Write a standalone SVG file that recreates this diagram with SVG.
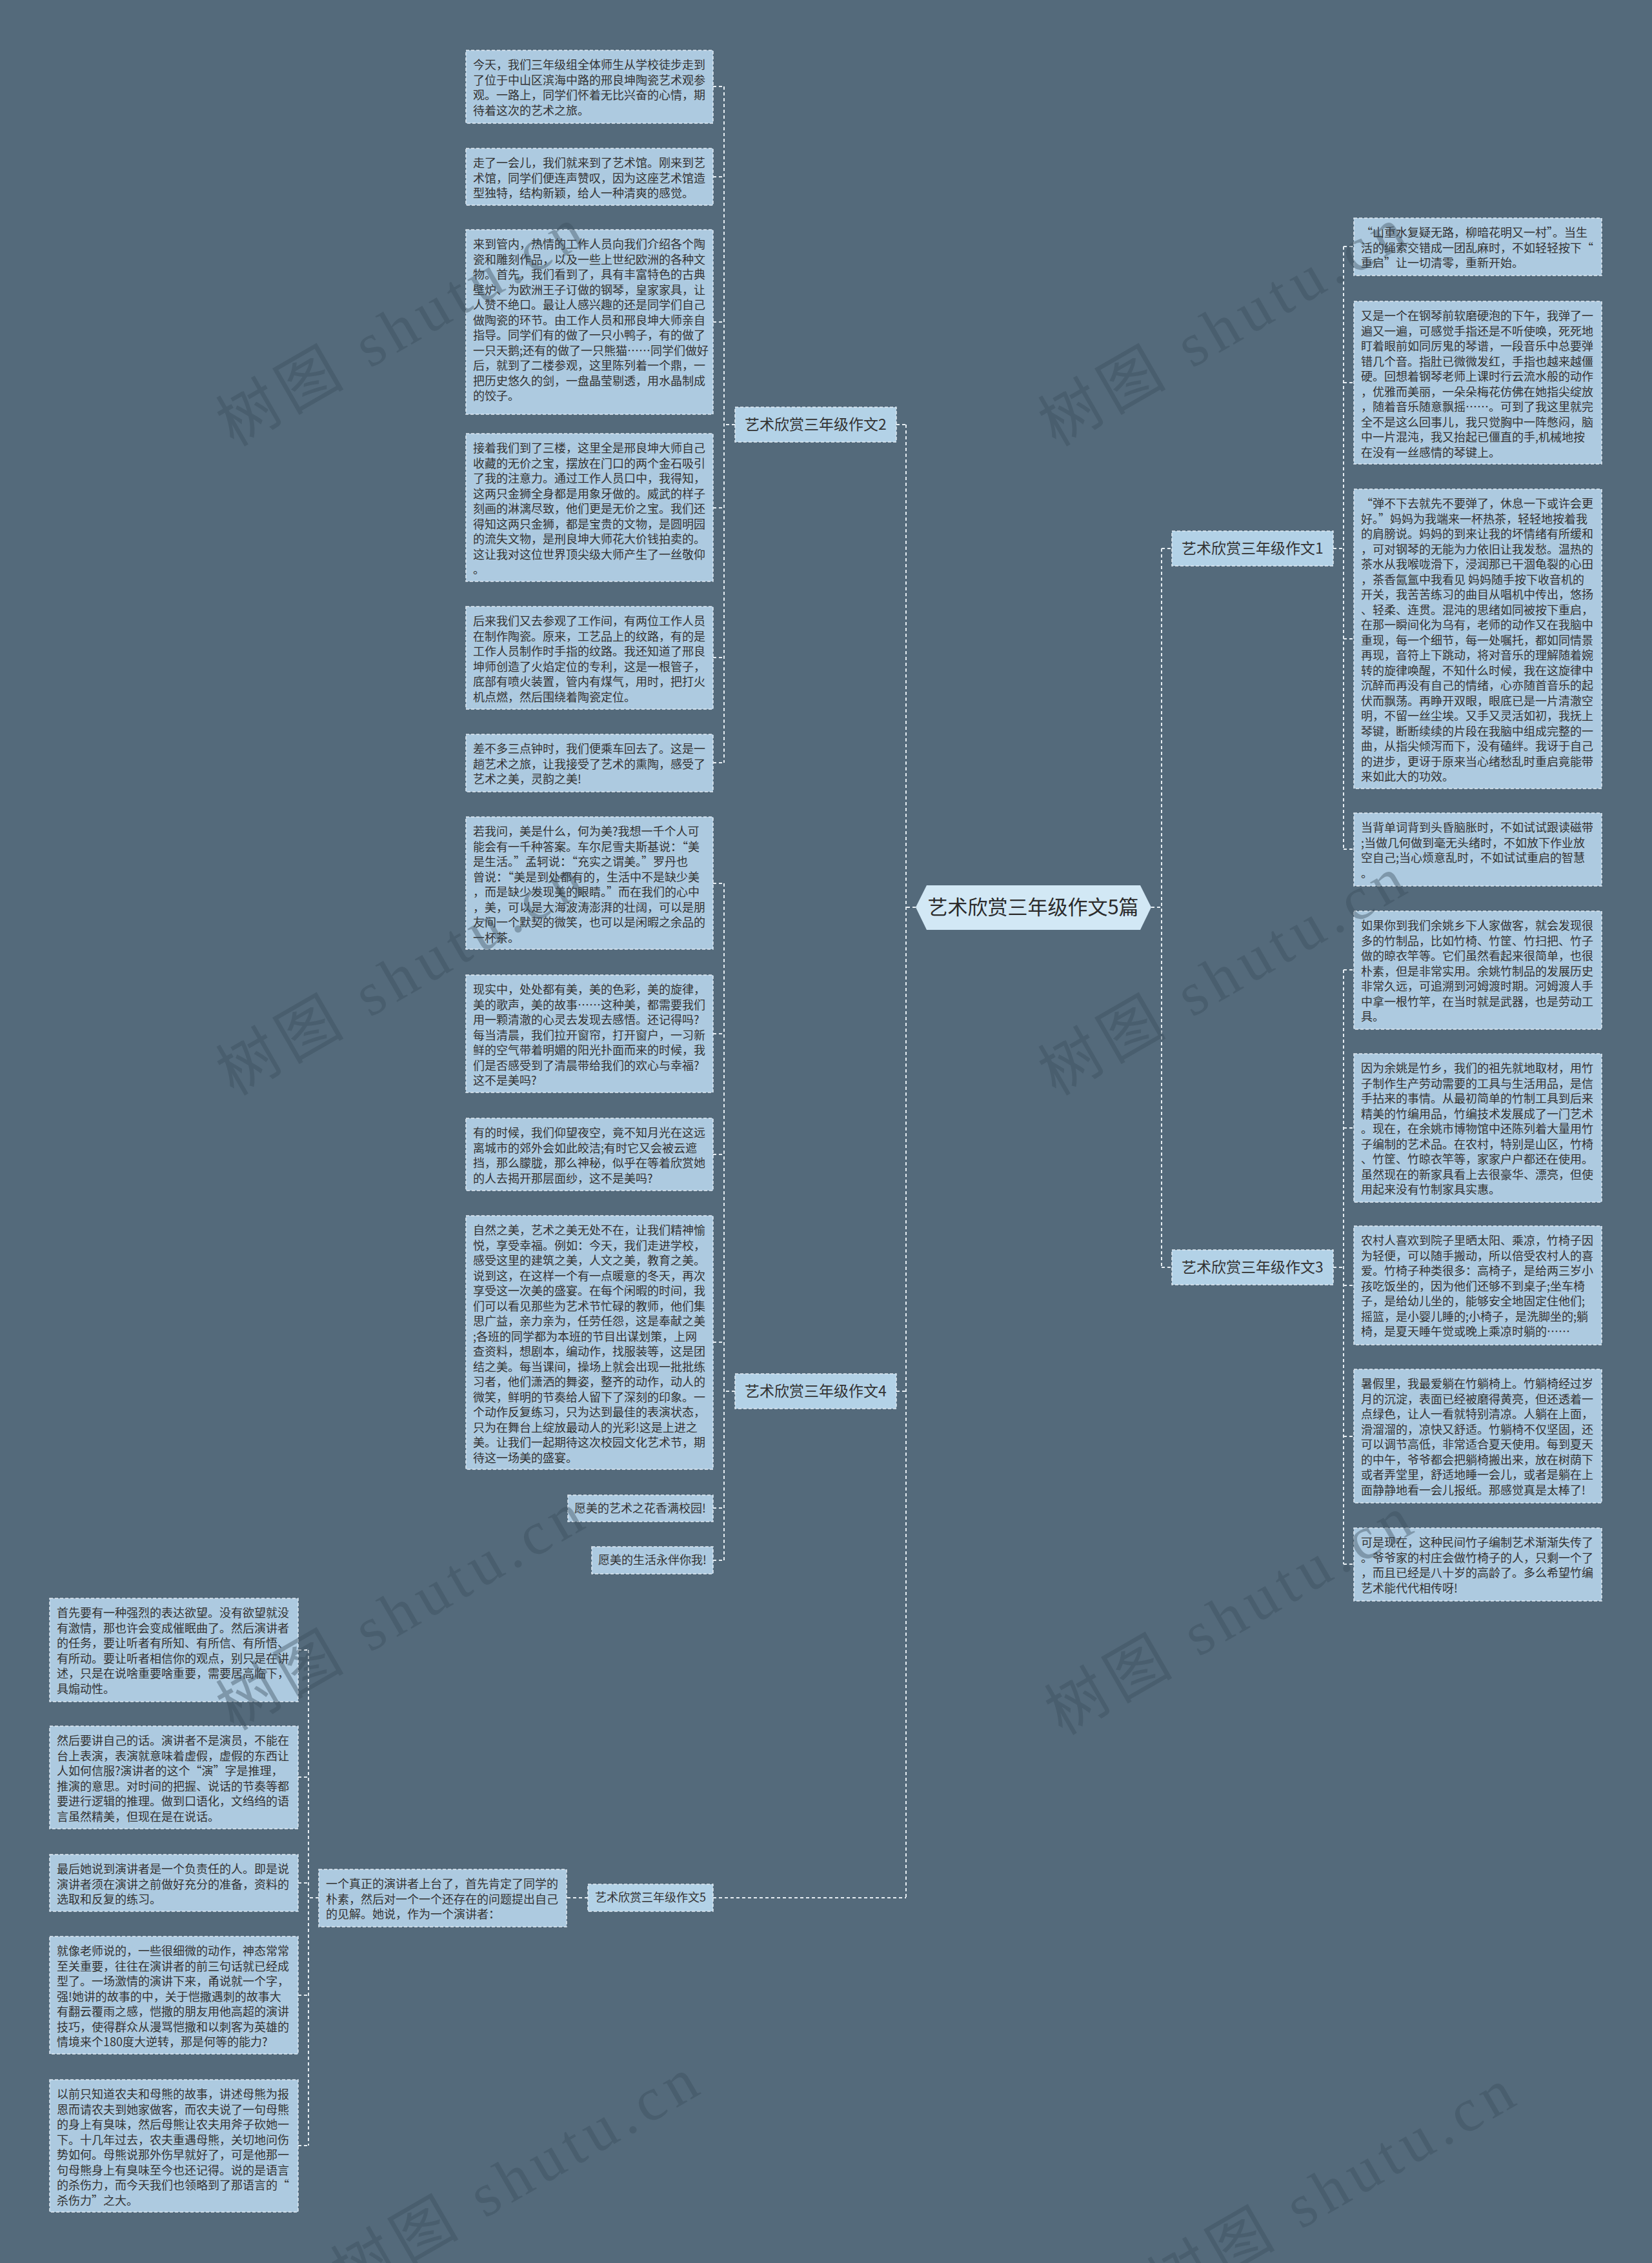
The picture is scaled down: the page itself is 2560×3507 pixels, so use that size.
<svg xmlns="http://www.w3.org/2000/svg" width="2560" height="3507" viewBox="0 0 2560 3507">
<defs>
<style>
.bg{fill:#546a7b}
.box{fill:#adcae0;stroke:#dfeaf3;stroke-width:1.5;stroke-dasharray:5 3}
.br{fill:#b3d2e7;stroke:#dfeaf3;stroke-width:1.5;stroke-dasharray:5 3}
.ctr{fill:#d2e8f5}
.t{font-family:"Noto Sans CJK SC","Noto Sans",sans-serif;font-size:18px;fill:#333}
.bt{font-family:"Noto Sans CJK SC","Noto Sans",sans-serif;font-size:23px;fill:#333;text-anchor:middle}
.ct{font-family:"Noto Sans CJK SC","Noto Sans",sans-serif;font-size:31px;fill:#2b2b2b;text-anchor:middle}
.conn{fill:none;stroke:#e6edf2;stroke-width:2;stroke-dasharray:5 4}
.wm{font-family:"Liberation Serif","Noto Sans CJK SC",serif;font-size:95px;letter-spacing:10px;fill:#3a4d5b;opacity:0.4}
</style>
</defs>
<rect class="bg" x="0" y="0" width="2560" height="3507"/>

<g id="connectors">
<path class="conn" d="M1419 1406 H1404 M1404 658 V2941 M1389 658 H1404 M1389 2156 H1404 M1105 2941 H1404"/>
<path class="conn" d="M1784 1406 H1800 M1800 850 V1964 M1800 850 H1816 M1800 1964 H1816"/>
<path class="conn" d="M2066 850 H2082 M2082 382 V1316 M2082 382 H2098 M2082 593 H2098 M2082 990 H2098 M2082 1316 H2098"/>
<path class="conn" d="M2066 1964 H2082 M2082 1503 V2424 M2082 1503 H2098 M2082 1748 H2098 M2082 1992 H2098 M2082 2226 H2098 M2082 2424 H2098"/>
<path class="conn" d="M1139 658 H1122 M1122 134 V1182 M1105 134 H1122 M1105 274 H1122 M1105 499 H1122 M1105 787 H1122 M1105 1019 H1122 M1105 1182 H1122"/>
<path class="conn" d="M1139 2156 H1122 M1122 1369 V2418 M1105 1369 H1122 M1105 1602 H1122 M1105 1789 H1122 M1105 2080 H1122 M1105 2337 H1122 M1105 2418 H1122"/>
<path class="conn" d="M911 2941 H878 M494 2941 H478 M478 2557 V3325 M462 2557 H478 M462 2754 H478 M462 2918 H478 M462 3092 H478 M462 3325 H478"/>
</g>

<g id="center">
<polygon class="ctr" points="1419,1406 1436,1372 1767,1372 1784,1406 1767,1441 1436,1441"/>
<text class="ct" x="1601" y="1417">艺术欣赏三年级作文5篇</text>
</g>

<g id="branch1"><rect class="br" x="1816" y="823" width="250" height="54"/><text class="bt" x="1941" y="858">艺术欣赏三年级作文1</text></g>
<g id="branch2"><rect class="br" x="1139" y="631" width="250" height="54"/><text class="bt" x="1264" y="666">艺术欣赏三年级作文2</text></g>
<g id="branch3"><rect class="br" x="1816" y="1937" width="250" height="54"/><text class="bt" x="1941" y="1972">艺术欣赏三年级作文3</text></g>
<g id="branch4"><rect class="br" x="1139" y="2129" width="250" height="54"/><text class="bt" x="1264" y="2164">艺术欣赏三年级作文4</text></g>
<g id="branch5"><rect class="br" x="911" y="2920" width="194" height="42"/><text class="t" x="1008" y="2947" text-anchor="middle">艺术欣赏三年级作文5</text></g>

<g id="n2a"><rect class="box" x="722" y="78" width="383" height="113"/>
<text class="t" x="733" y="107"><tspan x="733">今天，我们三年级组全体师生从学校徒步走到</tspan><tspan x="733" dy="23.5">了位于中山区滨海中路的邢良坤陶瓷艺术观参</tspan><tspan x="733" dy="23.5">观。一路上，同学们怀着无比兴奋的心情，期</tspan><tspan x="733" dy="23.5">待着这次的艺术之旅。</tspan></text></g>

<g id="n2b"><rect class="box" x="722" y="230" width="383" height="88"/>
<text class="t" x="733" y="259"><tspan x="733">走了一会儿，我们就来到了艺术馆。刚来到艺</tspan><tspan x="733" dy="23.5">术馆，同学们便连声赞叹，因为这座艺术馆造</tspan><tspan x="733" dy="23.5">型独特，结构新颖，给人一种清爽的感觉。</tspan></text></g>

<g id="n2c"><rect class="box" x="722" y="356" width="383" height="286"/>
<text class="t" x="733" y="385"><tspan x="733">来到管内，热情的工作人员向我们介绍各个陶</tspan><tspan x="733" dy="23.5">瓷和雕刻作品，以及一些上世纪欧洲的各种文</tspan><tspan x="733" dy="23.5">物。首先，我们看到了，具有丰富特色的古典</tspan><tspan x="733" dy="23.5">壁炉、为欧洲王子订做的钢琴，皇家家具，让</tspan><tspan x="733" dy="23.5">人赞不绝口。最让人感兴趣的还是同学们自己</tspan><tspan x="733" dy="23.5">做陶瓷的环节。由工作人员和邢良坤大师亲自</tspan><tspan x="733" dy="23.5">指导。同学们有的做了一只小鸭子，有的做了</tspan><tspan x="733" dy="23.5">一只天鹅;还有的做了一只熊猫……同学们做好</tspan><tspan x="733" dy="23.5">后，就到了二楼参观，这里陈列着一个鼎，一</tspan><tspan x="733" dy="23.5">把历史悠久的剑，一盘晶莹剔透，用水晶制成</tspan><tspan x="733" dy="23.5">的饺子。</tspan></text></g>

<g id="n2d"><rect class="box" x="722" y="672" width="383" height="229"/>
<text class="t" x="733" y="701"><tspan x="733">接着我们到了三楼，这里全是邢良坤大师自己</tspan><tspan x="733" dy="23.5">收藏的无价之宝，摆放在门口的两个金石吸引</tspan><tspan x="733" dy="23.5">了我的注意力。通过工作人员口中，我得知，</tspan><tspan x="733" dy="23.5">这两只金狮全身都是用象牙做的。威武的样子</tspan><tspan x="733" dy="23.5">刻画的淋漓尽致，他们更是无价之宝。我们还</tspan><tspan x="733" dy="23.5">得知这两只金狮，都是宝贵的文物，是圆明园</tspan><tspan x="733" dy="23.5">的流失文物，是刑良坤大师花大价钱拍卖的。</tspan><tspan x="733" dy="23.5">这让我对这位世界顶尖级大师产生了一丝敬仰</tspan><tspan x="733" dy="23.5">。</tspan></text></g>

<g id="n2e"><rect class="box" x="722" y="940" width="383" height="159"/>
<text class="t" x="733" y="969"><tspan x="733">后来我们又去参观了工作间，有两位工作人员</tspan><tspan x="733" dy="23.5">在制作陶瓷。原来，工艺品上的纹路，有的是</tspan><tspan x="733" dy="23.5">工作人员制作时手指的纹路。我还知道了邢良</tspan><tspan x="733" dy="23.5">坤师创造了火焰定位的专利，这是一根管子，</tspan><tspan x="733" dy="23.5">底部有喷火装置，管内有煤气，用时，把打火</tspan><tspan x="733" dy="23.5">机点燃，然后围绕着陶瓷定位。</tspan></text></g>

<g id="n2f"><rect class="box" x="722" y="1138" width="383" height="89"/>
<text class="t" x="733" y="1167"><tspan x="733">差不多三点钟时，我们便乘车回去了。这是一</tspan><tspan x="733" dy="23.5">趟艺术之旅，让我接受了艺术的熏陶，感受了</tspan><tspan x="733" dy="23.5">艺术之美，灵韵之美!</tspan></text></g>

<g id="n4a"><rect class="box" x="722" y="1266" width="383" height="205"/>
<text class="t" x="733" y="1295"><tspan x="733">若我问，美是什么，何为美?我想一千个人可</tspan><tspan x="733" dy="23.5">能会有一千种答案。车尔尼雪夫斯基说：“美</tspan><tspan x="733" dy="23.5">是生活。”孟轲说：“充实之谓美。”罗丹也</tspan><tspan x="733" dy="23.5">曾说：“美是到处都有的，生活中不是缺少美</tspan><tspan x="733" dy="23.5">，而是缺少发现美的眼睛。”而在我们的心中</tspan><tspan x="733" dy="23.5">，美，可以是大海波涛澎湃的壮阔，可以是朋</tspan><tspan x="733" dy="23.5">友间一个默契的微笑，也可以是闲暇之余品的</tspan><tspan x="733" dy="23.5">一杯茶。</tspan></text></g>

<g id="n4b"><rect class="box" x="722" y="1511" width="383" height="182"/>
<text class="t" x="733" y="1540"><tspan x="733">现实中，处处都有美，美的色彩，美的旋律，</tspan><tspan x="733" dy="23.5">美的歌声，美的故事……这种美，都需要我们</tspan><tspan x="733" dy="23.5">用一颗清澈的心灵去发现去感悟。还记得吗?</tspan><tspan x="733" dy="23.5">每当清晨，我们拉开窗帘，打开窗户，一习新</tspan><tspan x="733" dy="23.5">鲜的空气带着明媚的阳光扑面而来的时候，我</tspan><tspan x="733" dy="23.5">们是否感受到了清晨带给我们的欢心与幸福?</tspan><tspan x="733" dy="23.5">这不是美吗?</tspan></text></g>

<g id="n4c"><rect class="box" x="722" y="1733" width="383" height="112"/>
<text class="t" x="733" y="1762"><tspan x="733">有的时候，我们仰望夜空，竟不知月光在这远</tspan><tspan x="733" dy="23.5">离城市的郊外会如此皎洁;有时它又会被云遮</tspan><tspan x="733" dy="23.5">挡，那么朦胧，那么神秘，似乎在等着欣赏她</tspan><tspan x="733" dy="23.5">的人去揭开那层面纱，这不是美吗?</tspan></text></g>

<g id="n4d"><rect class="box" x="722" y="1884" width="383" height="393"/>
<text class="t" x="733" y="1913"><tspan x="733">自然之美，艺术之美无处不在，让我们精神愉</tspan><tspan x="733" dy="23.5">悦，享受幸福。例如：今天，我们走进学校，</tspan><tspan x="733" dy="23.5">感受这里的建筑之美，人文之美，教育之美。</tspan><tspan x="733" dy="23.5">说到这，在这样一个有一点暖意的冬天，再次</tspan><tspan x="733" dy="23.5">享受这一次美的盛宴。在每个闲暇的时间，我</tspan><tspan x="733" dy="23.5">们可以看见那些为艺术节忙碌的教师，他们集</tspan><tspan x="733" dy="23.5">思广益，亲力亲为，任劳任怨，这是奉献之美</tspan><tspan x="733" dy="23.5">;各班的同学都为本班的节目出谋划策，上网</tspan><tspan x="733" dy="23.5">查资料，想剧本，编动作，找服装等，这是团</tspan><tspan x="733" dy="23.5">结之美。每当课间，操场上就会出现一批批练</tspan><tspan x="733" dy="23.5">习者，他们潇洒的舞姿，整齐的动作，动人的</tspan><tspan x="733" dy="23.5">微笑，鲜明的节奏给人留下了深刻的印象。一</tspan><tspan x="733" dy="23.5">个动作反复练习，只为达到最佳的表演状态，</tspan><tspan x="733" dy="23.5">只为在舞台上绽放最动人的光彩!这是上进之</tspan><tspan x="733" dy="23.5">美。让我们一起期待这次校园文化艺术节，期</tspan><tspan x="733" dy="23.5">待这一场美的盛宴。</tspan></text></g>

<g id="n4e"><rect class="box" x="880" y="2317" width="225" height="41"/>
<text class="t" x="890" y="2344">愿美的艺术之花香满校园!</text></g>

<g id="n4f"><rect class="box" x="917" y="2397" width="188" height="42"/>
<text class="t" x="927" y="2424">愿美的生活永伴你我!</text></g>

<g id="n1a"><rect class="box" x="2098" y="338" width="384" height="89"/>
<text class="t" x="2109" y="367"><tspan x="2109">“山重水复疑无路，柳暗花明又一村”。当生</tspan><tspan x="2109" dy="23.5">活的绳索交错成一团乱麻时，不如轻轻按下“</tspan><tspan x="2109" dy="23.5">重启”让一切清零，重新开始。</tspan></text></g>

<g id="n1b"><rect class="box" x="2098" y="467" width="384" height="252"/>
<text class="t" x="2109" y="496"><tspan x="2109">又是一个在钢琴前软磨硬泡的下午，我弹了一</tspan><tspan x="2109" dy="23.5">遍又一遍，可感觉手指还是不听使唤，死死地</tspan><tspan x="2109" dy="23.5">盯着眼前如同厉鬼的琴谱，一段音乐中总要弹</tspan><tspan x="2109" dy="23.5">错几个音。指肚已微微发红，手指也越来越僵</tspan><tspan x="2109" dy="23.5">硬。回想着钢琴老师上课时行云流水般的动作</tspan><tspan x="2109" dy="23.5">，优雅而美丽，一朵朵梅花仿佛在她指尖绽放</tspan><tspan x="2109" dy="23.5">，随着音乐随意飘摇……。可到了我这里就完</tspan><tspan x="2109" dy="23.5">全不是这么回事儿，我只觉胸中一阵憋闷，脑</tspan><tspan x="2109" dy="23.5">中一片混沌，我又抬起已僵直的手,机械地按</tspan><tspan x="2109" dy="23.5">在没有一丝感情的琴键上。</tspan></text></g>

<g id="n1c"><rect class="box" x="2098" y="758" width="384" height="464"/>
<text class="t" x="2109" y="787"><tspan x="2109">“弹不下去就先不要弹了，休息一下或许会更</tspan><tspan x="2109" dy="23.5">好。”妈妈为我端来一杯热茶，轻轻地按着我</tspan><tspan x="2109" dy="23.5">的肩膀说。妈妈的到来让我的坏情绪有所缓和</tspan><tspan x="2109" dy="23.5">，可对钢琴的无能为力依旧让我发愁。温热的</tspan><tspan x="2109" dy="23.5">茶水从我喉咙滑下，浸润那已干涸龟裂的心田</tspan><tspan x="2109" dy="23.5">，茶香氤氲中我看见 妈妈随手按下收音机的</tspan><tspan x="2109" dy="23.5">开关，我苦苦练习的曲目从唱机中传出，悠扬</tspan><tspan x="2109" dy="23.5">、轻柔、连贯。混沌的思绪如同被按下重启，</tspan><tspan x="2109" dy="23.5">在那一瞬间化为乌有，老师的动作又在我脑中</tspan><tspan x="2109" dy="23.5">重现，每一个细节，每一处嘱托，都如同情景</tspan><tspan x="2109" dy="23.5">再现，音符上下跳动，将对音乐的理解随着婉</tspan><tspan x="2109" dy="23.5">转的旋律唤醒，不知什么时候，我在这旋律中</tspan><tspan x="2109" dy="23.5">沉醉而再没有自己的情绪，心亦随首音乐的起</tspan><tspan x="2109" dy="23.5">伏而飘荡。再睁开双眼，眼底已是一片清澈空</tspan><tspan x="2109" dy="23.5">明，不留一丝尘埃。又手又灵活如初，我抚上</tspan><tspan x="2109" dy="23.5">琴键，断断续续的片段在我脑中组成完整的一</tspan><tspan x="2109" dy="23.5">曲，从指尖倾泻而下，没有磕绊。我讶于自己</tspan><tspan x="2109" dy="23.5">的进步，更讶于原来当心绪愁乱时重启竟能带</tspan><tspan x="2109" dy="23.5">来如此大的功效。</tspan></text></g>

<g id="n1d"><rect class="box" x="2098" y="1260" width="384" height="113"/>
<text class="t" x="2109" y="1289"><tspan x="2109">当背单词背到头昏脑胀时，不如试试跟读磁带</tspan><tspan x="2109" dy="23.5">;当做几何做到毫无头绪时，不如放下作业放</tspan><tspan x="2109" dy="23.5">空自己;当心烦意乱时，不如试试重启的智慧</tspan><tspan x="2109" dy="23.5">。</tspan></text></g>

<g id="n3a"><rect class="box" x="2098" y="1412" width="384" height="183"/>
<text class="t" x="2109" y="1441"><tspan x="2109">如果你到我们余姚乡下人家做客，就会发现很</tspan><tspan x="2109" dy="23.5">多的竹制品，比如竹椅、竹筐、竹扫把、竹子</tspan><tspan x="2109" dy="23.5">做的晾衣竿等。它们虽然看起来很简单，也很</tspan><tspan x="2109" dy="23.5">朴素，但是非常实用。余姚竹制品的发展历史</tspan><tspan x="2109" dy="23.5">非常久远，可追溯到河姆渡时期。河姆渡人手</tspan><tspan x="2109" dy="23.5">中拿一根竹竿，在当时就是武器，也是劳动工</tspan><tspan x="2109" dy="23.5">具。</tspan></text></g>

<g id="n3b"><rect class="box" x="2098" y="1633" width="384" height="230"/>
<text class="t" x="2109" y="1662"><tspan x="2109">因为余姚是竹乡，我们的祖先就地取材，用竹</tspan><tspan x="2109" dy="23.5">子制作生产劳动需要的工具与生活用品，是信</tspan><tspan x="2109" dy="23.5">手拈来的事情。从最初简单的竹制工具到后来</tspan><tspan x="2109" dy="23.5">精美的竹编用品，竹编技术发展成了一门艺术</tspan><tspan x="2109" dy="23.5">。现在，在余姚市博物馆中还陈列着大量用竹</tspan><tspan x="2109" dy="23.5">子编制的艺术品。在农村，特别是山区，竹椅</tspan><tspan x="2109" dy="23.5">、竹筐、竹晾衣竿等，家家户户都还在使用。</tspan><tspan x="2109" dy="23.5">虽然现在的新家具看上去很豪华、漂亮，但使</tspan><tspan x="2109" dy="23.5">用起来没有竹制家具实惠。</tspan></text></g>

<g id="n3c"><rect class="box" x="2098" y="1900" width="384" height="184"/>
<text class="t" x="2109" y="1929"><tspan x="2109">农村人喜欢到院子里晒太阳、乘凉，竹椅子因</tspan><tspan x="2109" dy="23.5">为轻便，可以随手搬动，所以倍受农村人的喜</tspan><tspan x="2109" dy="23.5">爱。竹椅子种类很多：高椅子，是给两三岁小</tspan><tspan x="2109" dy="23.5">孩吃饭坐的，因为他们还够不到桌子;坐车椅</tspan><tspan x="2109" dy="23.5">子，是给幼儿坐的，能够安全地固定住他们;</tspan><tspan x="2109" dy="23.5">摇篮，是小婴儿睡的;小椅子，是洗脚坐的;躺</tspan><tspan x="2109" dy="23.5">椅，是夏天睡午觉或晚上乘凉时躺的……</tspan></text></g>

<g id="n3d"><rect class="box" x="2098" y="2122" width="384" height="207"/>
<text class="t" x="2109" y="2151"><tspan x="2109">暑假里，我最爱躺在竹躺椅上。竹躺椅经过岁</tspan><tspan x="2109" dy="23.5">月的沉淀，表面已经被磨得黄亮，但还透着一</tspan><tspan x="2109" dy="23.5">点绿色，让人一看就特别清凉。人躺在上面，</tspan><tspan x="2109" dy="23.5">滑溜溜的，凉快又舒适。竹躺椅不仅坚固，还</tspan><tspan x="2109" dy="23.5">可以调节高低，非常适合夏天使用。每到夏天</tspan><tspan x="2109" dy="23.5">的中午，爷爷都会把躺椅搬出来，放在树荫下</tspan><tspan x="2109" dy="23.5">或者弄堂里，舒适地睡一会儿，或者是躺在上</tspan><tspan x="2109" dy="23.5">面静静地看一会儿报纸。那感觉真是太棒了!</tspan></text></g>

<g id="n3e"><rect class="box" x="2098" y="2368" width="384" height="113"/>
<text class="t" x="2109" y="2397"><tspan x="2109">可是现在，这种民间竹子编制艺术渐渐失传了</tspan><tspan x="2109" dy="23.5">。爷爷家的村庄会做竹椅子的人，只剩一个了</tspan><tspan x="2109" dy="23.5">，而且已经是八十岁的高龄了。多么希望竹编</tspan><tspan x="2109" dy="23.5">艺术能代代相传呀!</tspan></text></g>

<g id="n5"><rect class="box" x="494" y="2897" width="384" height="89"/>
<text class="t" x="505" y="2926"><tspan x="505">一个真正的演讲者上台了，首先肯定了同学的</tspan><tspan x="505" dy="23.5">朴素，然后对一个一个还存在的问题提出自己</tspan><tspan x="505" dy="23.5">的见解。她说，作为一个演讲者：</tspan></text></g>

<g id="n5a"><rect class="box" x="77" y="2477" width="385" height="160"/>
<text class="t" x="88" y="2506"><tspan x="88">首先要有一种强烈的表达欲望。没有欲望就没</tspan><tspan x="88" dy="23.5">有激情，那也许会变成催眠曲了。然后演讲者</tspan><tspan x="88" dy="23.5">的任务，要让听者有所知、有所信、有所悟、</tspan><tspan x="88" dy="23.5">有所动。要让听者相信你的观点，别只是在讲</tspan><tspan x="88" dy="23.5">述，只是在说啥重要啥重要，需要居高临下，</tspan><tspan x="88" dy="23.5">具煽动性。</tspan></text></g>

<g id="n5b"><rect class="box" x="77" y="2675" width="385" height="159"/>
<text class="t" x="88" y="2704"><tspan x="88">然后要讲自己的话。演讲者不是演员，不能在</tspan><tspan x="88" dy="23.5">台上表演，表演就意味着虚假，虚假的东西让</tspan><tspan x="88" dy="23.5">人如何信服?演讲者的这个“演”字是推理，</tspan><tspan x="88" dy="23.5">推演的意思。对时间的把握、说话的节奏等都</tspan><tspan x="88" dy="23.5">要进行逻辑的推理。做到口语化，文绉绉的语</tspan><tspan x="88" dy="23.5">言虽然精美，但现在是在说话。</tspan></text></g>

<g id="n5c"><rect class="box" x="77" y="2874" width="385" height="88"/>
<text class="t" x="88" y="2903"><tspan x="88">最后她说到演讲者是一个负责任的人。即是说</tspan><tspan x="88" dy="23.5">演讲者须在演讲之前做好充分的准备，资料的</tspan><tspan x="88" dy="23.5">选取和反复的练习。</tspan></text></g>

<g id="n5d"><rect class="box" x="77" y="3001" width="385" height="182"/>
<text class="t" x="88" y="3030"><tspan x="88">就像老师说的，一些很细微的动作，神态常常</tspan><tspan x="88" dy="23.5">至关重要，往往在演讲者的前三句话就已经成</tspan><tspan x="88" dy="23.5">型了。一场激情的演讲下来，甬说就一个字，</tspan><tspan x="88" dy="23.5">强!她讲的故事的中，关于恺撒遇刺的故事大</tspan><tspan x="88" dy="23.5">有翻云覆雨之感，恺撒的朋友用他高超的演讲</tspan><tspan x="88" dy="23.5">技巧，使得群众从漫骂恺撒和以刺客为英雄的</tspan><tspan x="88" dy="23.5">情境来个180度大逆转，那是何等的能力?</tspan></text></g>

<g id="n5e"><rect class="box" x="77" y="3223" width="385" height="205"/>
<text class="t" x="88" y="3252"><tspan x="88">以前只知道农夫和母熊的故事，讲述母熊为报</tspan><tspan x="88" dy="23.5">恩而请农夫到她家做客，而农夫说了一句母熊</tspan><tspan x="88" dy="23.5">的身上有臭味，然后母熊让农夫用斧子砍她一</tspan><tspan x="88" dy="23.5">下。十几年过去，农夫重遇母熊，关切地问伤</tspan><tspan x="88" dy="23.5">势如何。母熊说那外伤早就好了，可是他那一</tspan><tspan x="88" dy="23.5">句母熊身上有臭味至今也还记得。说的是语言</tspan><tspan x="88" dy="23.5">的杀伤力，而今天我们也领略到了那语言的“</tspan><tspan x="88" dy="23.5">杀伤力”之大。</tspan></text></g>

<g id="watermarks">
<text class="wm" transform="translate(362,693) rotate(-30)">树图 shutu.cn</text>
<text class="wm" transform="translate(1636,693) rotate(-30)">树图 shutu.cn</text>
<text class="wm" transform="translate(362,1699) rotate(-30)">树图 shutu.cn</text>
<text class="wm" transform="translate(1636,1699) rotate(-30)">树图 shutu.cn</text>
<text class="wm" transform="translate(362,2683) rotate(-30)">树图 shutu.cn</text>
<text class="wm" transform="translate(1646,2690) rotate(-30)">树图 shutu.cn</text>
<text class="wm" transform="translate(540,3560) rotate(-30)">树图 shutu.cn</text>
<text class="wm" transform="translate(1805,3577) rotate(-30)">树图 shutu.cn</text>
</g>
</svg>
